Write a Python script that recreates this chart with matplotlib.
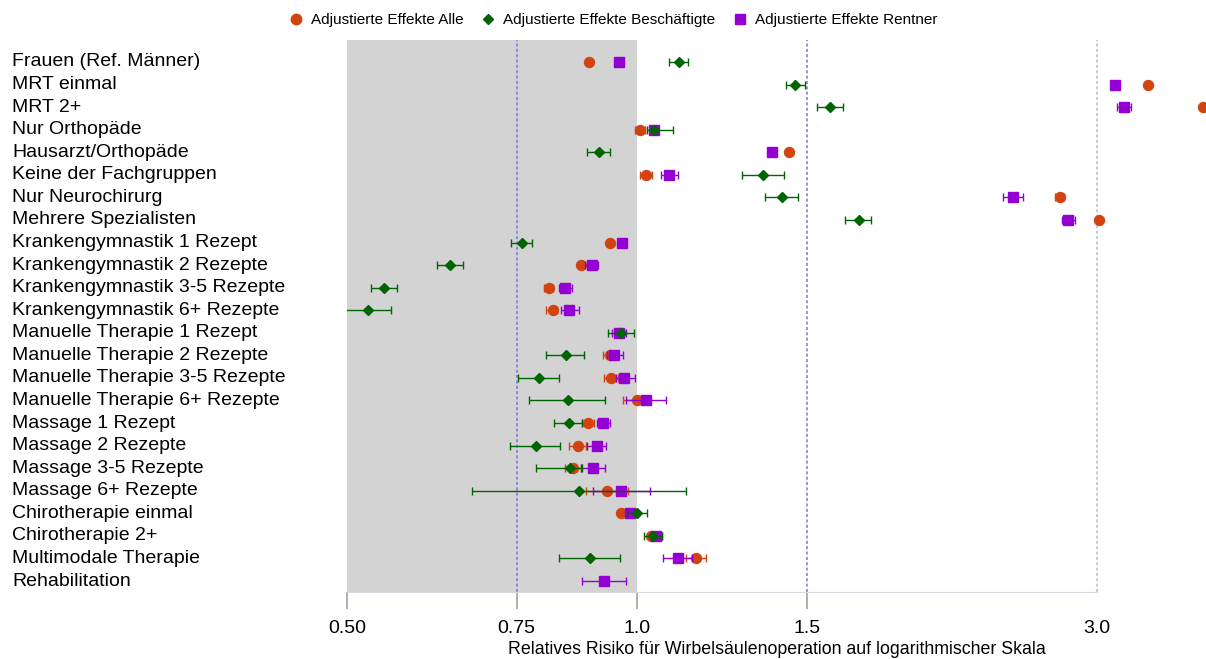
import numpy as np
import matplotlib
matplotlib.use("Agg")
import matplotlib.pyplot as plt
from matplotlib.lines import Line2D

plt.rcParams['font.family'] = ['Liberation Sans', 'DejaVu Sans']

nan = np.nan

labels = ['Frauen (Ref. Männer)', 'MRT einmal', 'MRT 2+', 'Nur Orthopäde',
          'Hausarzt/Orthopäde', 'Keine der Fachgruppen', 'Nur Neurochirurg',
          'Mehrere Spezialisten', 'Krankengymnastik 1 Rezept',
          'Krankengymnastik 2 Rezepte', 'Krankengymnastik 3-5 Rezepte',
          'Krankengymnastik 6+ Rezepte', 'Manuelle Therapie 1 Rezept',
          'Manuelle Therapie 2 Rezepte', 'Manuelle Therapie 3-5 Rezepte',
          'Manuelle Therapie 6+ Rezepte', 'Massage 1 Rezept', 'Massage 2 Rezepte',
          'Massage 3-5 Rezepte', 'Massage 6+ Rezepte', 'Chirotherapie einmal',
          'Chirotherapie 2+', 'Multimodale Therapie', 'Rehabilitation']

# Adjustierte Effekte Alle
alle    = [0.892, 3.389, 3.868, 1.007, 1.438, 1.021, 2.748, 3.017, 0.938, 0.875, 0.810, 0.818,
           0.961, 0.938, 0.940, 1.001, 0.889, 0.868, 0.858, 0.930, 0.962, 1.034, 1.151, nan]
alle_lo = [0.892, 3.389, 3.868, 0.995, 1.438, 1.007, 2.716, 3.017, 0.938, 0.875, 0.801, 0.805,
           0.961, 0.922, 0.924, 0.967, 0.877, 0.850, 0.842, 0.885, 0.962, 1.034, 1.124, nan]
alle_hi = [0.892, 3.389, 3.868, 1.019, 1.438, 1.037, 2.775, 3.017, 0.938, 0.875, 0.818, 0.826,
           0.961, 0.953, 0.956, 1.030, 0.902, 0.885, 0.875, 0.979, 0.962, 1.034, 1.179, nan]

# Adjustierte Effekte Beschaeftigte
besch    = [1.105, 1.459, 1.586, 1.041, 0.913, 1.351, 1.414, 1.700, 0.759, 0.640, 0.546, 0.526,
            0.962, 0.843, 0.791, 0.847, 0.849, 0.785, 0.853, 0.870, 0.999, 1.039, 0.894, nan]
besch_lo = [1.079, 1.428, 1.538, 1.024, 0.887, 1.285, 1.358, 1.645, 0.740, 0.620, 0.530, 0.496,
            0.933, 0.805, 0.752, 0.773, 0.820, 0.738, 0.786, 0.674, 0.976, 1.017, 0.830, nan]
besch_hi = [1.130, 1.494, 1.636, 1.090, 0.938, 1.421, 1.469, 1.750, 0.778, 0.660, 0.564, 0.555,
            0.993, 0.881, 0.830, 0.926, 0.877, 0.832, 0.877, 1.124, 1.024, 1.062, 0.960, nan]

# Adjustierte Effekte Rentner
rent    = [0.958, 3.132, 3.203, 1.041, 1.381, 1.079, 2.456, 2.801, 0.965, 0.898, 0.842, 0.849,
           0.957, 0.946, 0.969, 1.022, 0.923, 0.908, 0.900, 0.962, 0.983, 1.046, 1.102, 0.925]
rent_lo = [0.958, 3.132, 3.150, 1.035, 1.372, 1.059, 2.398, 2.762, 0.965, 0.883, 0.830, 0.834,
           0.942, 0.931, 0.951, 0.974, 0.909, 0.887, 0.875, 0.900, 0.983, 1.032, 1.064, 0.877]
rent_hi = [0.958, 3.132, 3.257, 1.047, 1.390, 1.103, 2.516, 2.849, 0.965, 0.911, 0.856, 0.871,
           0.974, 0.967, 0.995, 1.072, 0.938, 0.929, 0.926, 1.032, 0.983, 1.062, 1.141, 0.974]

ticks = [0.5, 0.75, 1.0, 1.5, 3.0]
tick_labels = ['0.50', '0.75', '1.0', '1.5', '3.0']

c_alle = '#d2440f'
c_besch = '#006400'
c_rent = '#9400d3'

W, H = 1206, 659
fig = plt.figure(figsize=(W / 100, H / 100), dpi=100)
ax = fig.add_axes([347 / W, 1 - 592 / H, (W - 347) / W, (592 - 40) / H])
ax.set_xscale('log')
n = len(labels)
y = np.arange(n)
row_h = (581 - 62) / (n - 1)
ax.set_ylim((592 - 62) / row_h, -(62 - 40) / row_h)
ax.set_xlim(0.5, 0.5 * np.exp((W - 347) / 418.4))

ax.axvspan(0.5, 1.0, color='#d3d3d3', zorder=0, lw=0)
for xv, col in [(0.75, '#7878d8'), (1.5, '#7878d8'), (3.0, '#b8b8e4')]:
    ax.axvline(xv, color=col, lw=1.1, ls=(0, (2, 1.5)), zorder=1)


def draw(vals, lo, hi, color, marker, ms, z):
    vals = np.array(vals); lo = np.array(lo); hi = np.array(hi)
    err = np.vstack([vals - lo, hi - vals])
    ax.errorbar(vals, y, xerr=err, fmt=marker, color=color, ms=ms,
                ecolor=color, elinewidth=1, capsize=3, capthick=1,
                mec=color, mfc=color, zorder=z)


draw(alle, alle_lo, alle_hi, c_alle, 'o', 7.2, 3)
draw(rent, rent_lo, rent_hi, c_rent, 's', 7, 3.5)
draw(besch, besch_lo, besch_hi, c_besch, 'D', 5.2, 4)

ax.set_xticks(ticks)
ax.set_xticklabels(tick_labels, fontsize=14)
ax.xaxis.set_minor_locator(matplotlib.ticker.NullLocator())
ax.tick_params(axis='x', length=12, color='#a8a8a8', width=1.3, pad=8)
ax.xaxis.get_major_ticks()[-1].tick1line.set_visible(False)
ax.set_yticks([])
for s in ['top', 'right', 'left']:
    ax.spines[s].set_visible(False)
ax.spines['bottom'].set_color('#d8d8e2')
ax.spines['bottom'].set_bounds(0.5, 3.0)
ax.set_xlabel('Relatives Risiko für Wirbelsäulenoperation auf logarithmischer Skala',
              fontsize=12.8, labelpad=3)

for i, lab in enumerate(labels):
    fig.text(12 / W, 1 - (62 + i * row_h) / H, lab, fontsize=14, va='center', ha='left')

handles = [
    Line2D([], [], ls='none', marker='o', color=c_alle, ms=7.5, label='Adjustierte Effekte Alle'),
    Line2D([], [], ls='none', marker='D', color=c_besch, ms=5.5, label='Adjustierte Effekte Beschäftigte'),
    Line2D([], [], ls='none', marker='s', color=c_rent, ms=7.5, label='Adjustierte Effekte Rentner'),
]
fig.legend(handles=handles, loc='center', bbox_to_anchor=(612 / W, 1 - 20 / H), ncol=3,
           frameon=False, fontsize=11, handletextpad=0.4, columnspacing=1.0,
           handlelength=1.2)

fig.savefig('out.png', dpi=100)
